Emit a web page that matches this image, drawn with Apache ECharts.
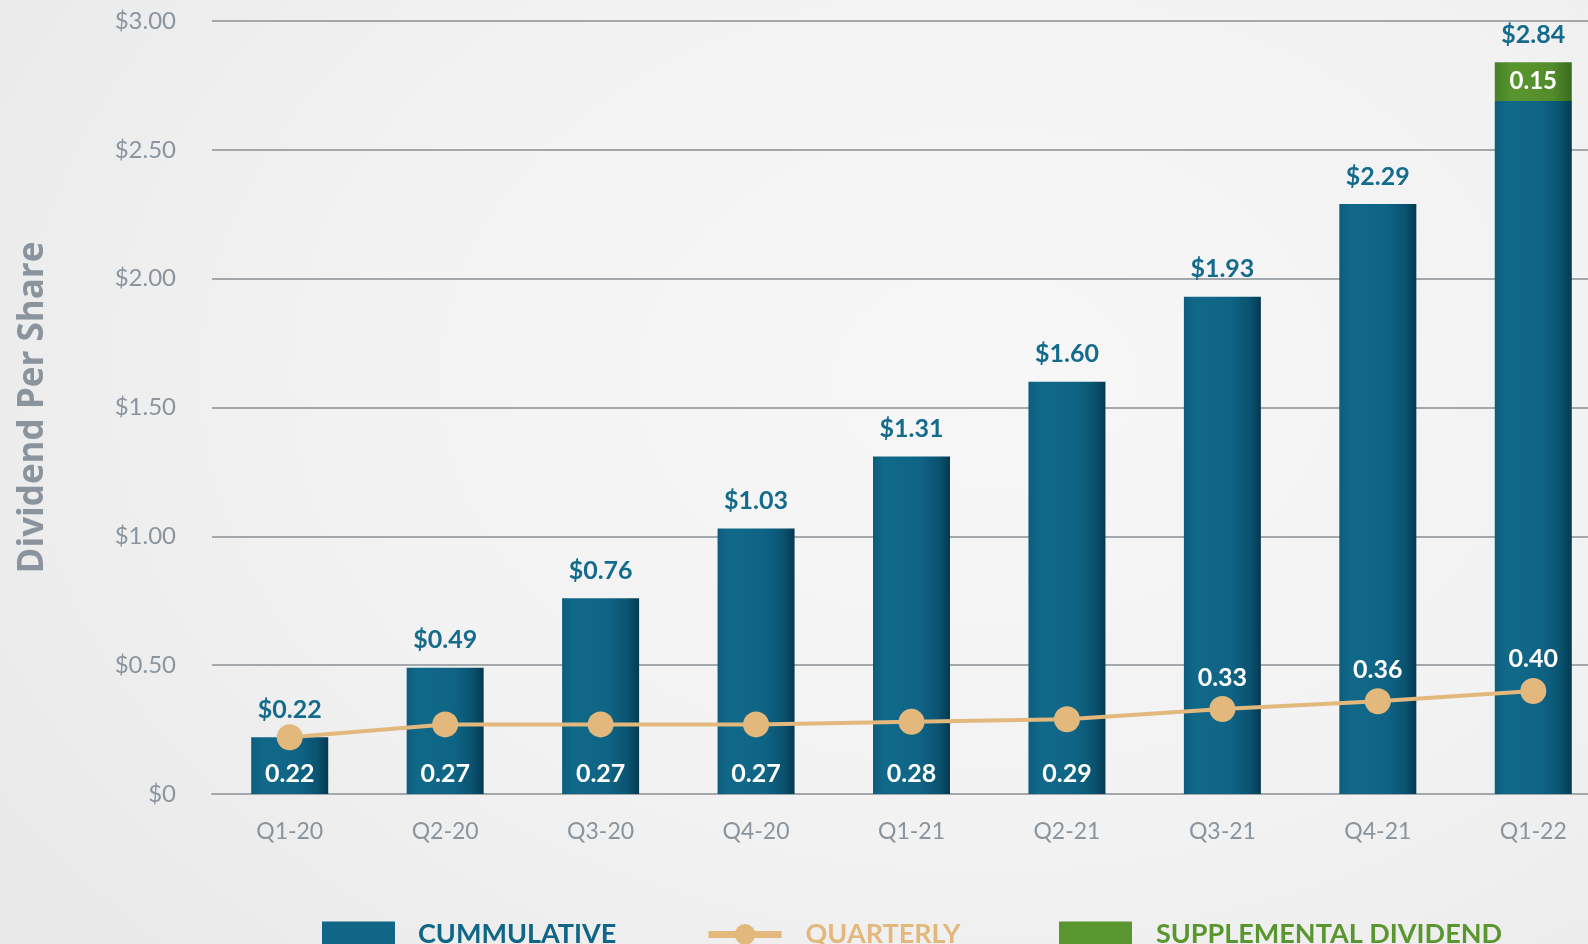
<!DOCTYPE html>
<html>
<head>
<meta charset="utf-8">
<script src="https://cdn.jsdelivr.net/npm/echarts@6/dist/echarts.min.js"></script>
<style>
html,body{margin:0;padding:0;width:1588px;height:944px;overflow:hidden;
background:radial-gradient(ellipse 75% 90% at 62% 40%, #f7f7f7 0%, #f2f2f2 55%, #e9e9e9 100%);}
#chart{width:1588px;height:944px;}
</style>
</head>
<body>
<div id="chart"></div>
<script>
const categories = ['Q1-20','Q2-20','Q3-20','Q4-20','Q1-21','Q2-21','Q3-21','Q4-21','Q1-22'];
const cumulative = [0.22,0.49,0.76,1.03,1.31,1.60,1.93,2.29,2.69];
const supplemental = [null,null,null,null,null,null,null,null,0.15];
const quarterly = [0.22,0.27,0.27,0.27,0.28,0.29,0.33,0.36,0.40];
const yTicks = [0,0.5,1,1.5,2,2.5,3];
const totals = cumulative.map((v,i)=> +(v + (supplemental[i]||0)).toFixed(2));

const FONT = 'Lato, "Open Sans", sans-serif';
const BLUE = '#0f6686', TAN = '#e2b87c', GREEN = '#5a962f', GREY = '#8b949c';

const legendText = {fontFamily:FONT, fontWeight:'bold', fontSize:27};
function mkLegend(left, name, color, pad, extra){
  return {
    left:left, top:921, padding:0, itemWidth:73, itemHeight:26, selectedMode:false,
    data:[Object.assign({name:name, textStyle:Object.assign({color:color, padding:[0,0,0,pad]}, legendText)}, extra||{})]
  };
}

const chart = echarts.init(document.getElementById('chart'), null, {renderer:'canvas'});
chart.setOption({
  animation:false,
  backgroundColor:'transparent',
  grid:{left:212, width:1399, top:21, bottom:150, containLabel:false, outerBoundsMode:'none'},
  legend:[
    mkLegend(322,'CUMMULATIVE',BLUE,18,{icon:'rect', itemStyle:{color:BLUE}}),
    mkLegend(705,'QUARTERLY',TAN,19,{lineStyle:{color:TAN, width:7}}),
    mkLegend(1059,'SUPPLEMENTAL DIVIDEND',GREEN,19,{icon:'rect', itemStyle:{color:GREEN}})
  ],
  xAxis:{
    type:'category', data:categories,
    axisLine:{lineStyle:{color:'#a3a8ad', width:2}},
    axisTick:{show:false},
    axisLabel:{color:GREY, fontFamily:FONT, fontSize:23, margin:26}
  },
  yAxis:{
    type:'value', min:yTicks[0], max:yTicks[yTicks.length-1], interval:0.5,
    name:'Dividend Per Share', nameLocation:'middle', nameGap:161, nameRotate:90,
    nameTextStyle:{color:GREY, fontFamily:'"Open Sans", Lato, sans-serif', fontWeight:'bold', fontSize:35},
    axisLine:{show:false}, axisTick:{show:false},
    splitLine:{lineStyle:{color:'#a3a8ad', width:2}},
    axisLabel:{color:GREY, fontFamily:FONT, fontSize:24, margin:36,
      formatter:v=> v===0 ? '$0' : '$'+v.toFixed(2)}
  },
  series:[
    {
      name:'CUMMULATIVE', type:'bar', stack:'c', barWidth:77, data:cumulative,
      itemStyle:{color:new echarts.graphic.LinearGradient(0,0,1,0,[
        {offset:0,color:'#0c5d7c'},{offset:0.15,color:'#11698a'},{offset:0.6,color:'#0f6485'},{offset:0.85,color:'#0a5371'},{offset:1,color:'#043a50'}])},
      z:2
    },
    {
      name:'SUPPLEMENTAL DIVIDEND', type:'bar', stack:'c', barWidth:77, data:supplemental,
      itemStyle:{color:new echarts.graphic.LinearGradient(0,0,1,0,[
        {offset:0,color:'#467f25'},{offset:0.25,color:'#5a962f'},{offset:0.75,color:'#528c2b'},{offset:1,color:'#3a6b1d'}])},
      label:{show:true, position:'inside', color:'#fff', fontFamily:FONT, fontWeight:'bold', fontSize:24,
        formatter:p=>p.value==null?'':p.value.toFixed(2)},
      z:2
    },
    {
      name:'total', type:'bar', barWidth:77, barGap:'-100%', data:totals,
      itemStyle:{color:'rgba(0,0,0,0)'},
      label:{show:true, position:'top', distance:15, color:'#146b8c', fontFamily:FONT, fontWeight:'bold', fontSize:25,
        formatter:p=>'$'+p.value.toFixed(2)},
      z:3, silent:true
    },
    {
      name:'qlabel', type:'bar', barWidth:77, barGap:'-100%', data:quarterly,
      itemStyle:{color:'rgba(0,0,0,0)'},
      label:{show:true, position:'insideBottom', distance:8, color:'#fff', fontFamily:FONT, fontWeight:'bold', fontSize:25,
        formatter:p=> p.dataIndex<6 ? p.value.toFixed(2) : ''},
      z:3, silent:true
    },
    {
      name:'QUARTERLY', type:'line', data:quarterly, symbol:'circle', symbolSize:26,
      lineStyle:{color:TAN, width:4}, itemStyle:{color:TAN},
      label:{show:true, position:'top', distance:6, color:'#fff', fontFamily:FONT, fontWeight:'bold', fontSize:25,
        formatter:p=> p.dataIndex>=6 ? p.value.toFixed(2) : ''},
      z:5
    }
  ]
});
</script>
</body>
</html>
